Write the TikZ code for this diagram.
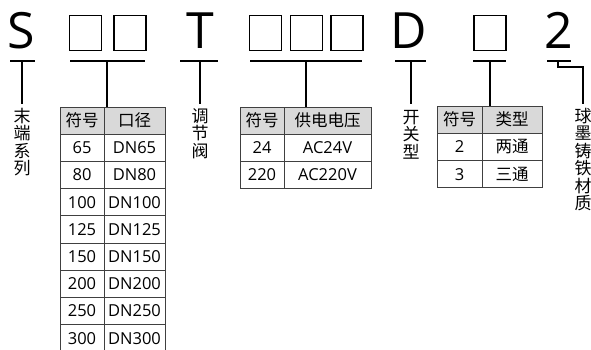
\documentclass[tikz,border=0pt]{standalone}
\usepackage{fontspec}
\setmainfont{Open Sans}
\newfontfamily\cjk{Noto Sans CJK SC}
\begin{document}
\begin{tikzpicture}[x=1pt,y=-1pt,
  big/.style={font=\fontsize{50}{50}\selectfont, inner sep=0, anchor=base},
  ubox/.style={draw, line width=1.4pt, minimum width=32pt, minimum height=35pt, inner sep=0},
  uline/.style={line width=1.8pt},
  stem/.style={line width=1.2pt},
  vlab/.style={font=\cjk\fontsize{17}{17.5}\selectfont, align=center, anchor=north, inner sep=0},
  cell/.style={draw=black!75, line width=0.9pt, inner sep=0, font=\fontsize{16.5}{16.5}\selectfont},
  head/.style={cell, fill=black!15, font=\cjk\fontsize{16.5}{16.5}\selectfont}]
\useasboundingbox (0,0) rectangle (591,349);
% big letters and boxes
\node[big] (S) at (21.5,48) {S};
\node[ubox] (b1) at (85.5,33) {};
\node[ubox] (b2) at (130,33) {};
\node[big] (T) at (200,48) {T};
\node[ubox] (b3) at (265.5,33) {};
\node[ubox] (b4) at (306.5,33) {};
\node[ubox] (b5) at (347,33) {};
\node[big] (D) at (409,48) {D};
\node[ubox] (b6) at (490,33) {};
\node[big] (N2) at (559,48) {2};
% underlines
\coordinate (sA) at (10,61); \coordinate (sB) at (35,61); \coordinate (sM) at (22,61);
\coordinate (pA) at (70,61); \coordinate (pB) at (145,61); \coordinate (pM) at (107,61);
\coordinate (tA) at (180,61); \coordinate (tB) at (218,61); \coordinate (tM) at (200,61);
\coordinate (vA) at (250,61); \coordinate (vB) at (362,61); \coordinate (vM) at (306,61);
\coordinate (dA) at (395,61); \coordinate (dB) at (426,61); \coordinate (dM) at (411,61);
\coordinate (kA) at (473,61); \coordinate (kB) at (506,61); \coordinate (kM) at (490,61);
\coordinate (mA) at (547,61); \coordinate (mB) at (571,61); \coordinate (mM) at (558,61);
\foreach \p in {s,p,t,v,d,k,m}{\draw[uline] (\p A) -- (\p B);}
% vertical labels
\node[vlab] (labS) at (22,108) {末\\端\\系\\列};
\node[vlab] (labT) at (200,108) {调\\节\\阀};
\node[vlab] (labD) at (411,110) {开\\关\\型};
\node[vlab] (labM) at (583,108) {球\\墨\\铸\\铁\\材\\质};
\draw[stem] (sM) -- ([yshift=4pt]labS.north);
\draw[stem] (tM) -- ([yshift=4pt]labT.north);
\draw[stem] (dM) -- ([yshift=6pt]labD.north);
\draw[stem] (mM) -- ++(0,6) -| ([yshift=4pt]labM.north);
% table 1
\node[head, minimum width=44pt, minimum height=27.2pt] (t1a0) at (82,120.6) {符号};
\node[head, minimum width=61pt, minimum height=27.2pt] (t1b0) at (134.5,120.6) {口径};
\foreach \a/\b [count=\i] in {65/DN65,80/DN80,100/DN100,125/DN125,150/DN150,200/DN200,250/DN250,300/DN300}{
  \node[cell, minimum width=44pt, minimum height=27.2pt] (t1a\i) at (82,120.6+27.2*\i) {\a};
  \node[cell, minimum width=61pt, minimum height=27.2pt] (t1b\i) at (134.5,120.6+27.2*\i) {\b};
}
\draw[stem] (pM) -- (pM |- t1b0.north);
% table 2
\node[head, minimum width=44pt, minimum height=27pt] (t2a0) at (262,120.5) {符号};
\node[head, minimum width=87pt, minimum height=27pt] (t2b0) at (327.5,120.5) {供电电压};
\foreach \a/\b [count=\i] in {24/AC24V,220/AC220V}{
  \node[cell, minimum width=44pt, minimum height=27pt] (t2a\i) at (262,120.5+27*\i) {\a};
  \node[cell, minimum width=87pt, minimum height=27pt] (t2b\i) at (327.5,120.5+27*\i) {\b};
}
\draw[stem] (vM) -- (vM |- t2b0.north);
% table 3
\node[head, minimum width=45pt, minimum height=27.3pt] (t3a0) at (459.5,119.6) {符号};
\node[head, minimum width=60pt, minimum height=27.3pt] (t3b0) at (512,119.6) {类型};
\foreach \a/\b [count=\i] in {2/两通,3/三通}{
  \node[cell, minimum width=45pt, minimum height=27.3pt] (t3a\i) at (459.5,119.6+27.3*\i) {\a};
  \node[cell, minimum width=60pt, minimum height=27.3pt, font=\cjk\fontsize{16.5}{16.5}\selectfont] (t3b\i) at (512,119.6+27.3*\i) {\b};
}
\draw[stem] (kM) -- (kM |- t3b0.north);
\end{tikzpicture}
\end{document}
